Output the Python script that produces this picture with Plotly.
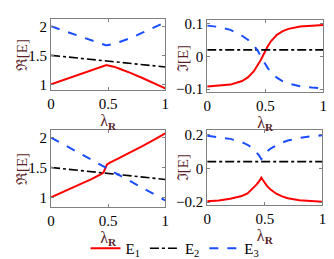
import plotly.graph_objects as go

# common lambda_R sample points
lam = [0, 0.1, 0.2, 0.3, 0.35, 0.4, 0.43, 0.45, 0.46, 0.47, 0.48, 0.49,
       0.52, 0.55, 0.6, 0.65, 0.7, 0.8, 0.9, 1.0]

# top-left: Re[E]
tl_e1 = [1.00, 1.07, 1.14, 1.21, 1.245, 1.28, 1.305, 1.318, 1.323, 1.327, 1.328, 1.328,
         1.32, 1.305, 1.27, 1.235, 1.195, 1.11, 1.02, 0.93]
tl_e2 = [1.50, 1.48, 1.46, 1.44, 1.43, 1.42, 1.414, 1.41, 1.408, 1.406, 1.404, 1.402,
         1.396, 1.39, 1.38, 1.37, 1.36, 1.34, 1.32, 1.30]
tl_e3 = [2.00, 1.93, 1.86, 1.79, 1.755, 1.72, 1.70, 1.685, 1.68, 1.675, 1.673, 1.673,
         1.68, 1.695, 1.73, 1.765, 1.80, 1.89, 1.98, 2.07]

# top-right: Im[E]
tr_e1 = [-0.092, -0.090, -0.086, -0.075, -0.064, -0.046, -0.031, -0.019, -0.012, -0.005, 0.003, 0.010,
         0.030, 0.047, 0.066, 0.077, 0.084, 0.091, 0.094, 0.096]
tr_e2 = [0.02] * 20
tr_e3 = [0.094, 0.090, 0.081, 0.063, 0.051, 0.034, 0.020, 0.009, 0.003, -0.004, -0.010, -0.017,
         -0.035, -0.049, -0.065, -0.076, -0.083, -0.091, -0.095, -0.097]

# bottom-left: Re[E]
bl_e1 = [1.00, 1.09, 1.175, 1.26, 1.30, 1.345, 1.375, 1.40, 1.42, 1.46, 1.52, 1.55,
         1.585, 1.61, 1.66, 1.71, 1.755, 1.855, 1.96, 2.07]
bl_e2 = [1.50, 1.48, 1.46, 1.44, 1.43, 1.42, 1.414, 1.41, 1.408, 1.406, 1.404, 1.402,
         1.396, 1.39, 1.38, 1.37, 1.36, 1.34, 1.32, 1.30]
bl_e3 = [2.00, 1.895, 1.79, 1.685, 1.633, 1.58, 1.549, 1.528, 1.517, 1.507, 1.496, 1.486,
         1.454, 1.423, 1.37, 1.318, 1.265, 1.16, 1.055, 0.95]

# bottom-right: Im[E]
br_e1 = [-0.195, -0.19, -0.18, -0.163, -0.148, -0.118, -0.095, -0.077, -0.066, -0.055, -0.066, -0.078,
         -0.105, -0.125, -0.15, -0.166, -0.177, -0.188, -0.194, -0.197]
br_e2 = [0.04] * 20
br_e3 = [0.194, 0.186, 0.175, 0.156, 0.14, 0.117, 0.095, 0.077, 0.066, 0.055, 0.064, 0.075,
         0.10, 0.118, 0.138, 0.153, 0.165, 0.18, 0.19, 0.196]

x_ticks = [0, 0.5, 1]
x_tick_labels = ["0", "0.5", "1"]
re_ticks = [1, 1.5, 2]
re_tick_labels = ["1", "1.5", "2"]
tr_ticks = [-0.1, 0, 0.1]
tr_tick_labels = ["\u22120.1", "0", "0.1"]
br_ticks = [-0.2, 0, 0.2]
br_tick_labels = ["\u22120.2", "0", "0.2"]

names = ["E<sub>1</sub>", "E<sub>2</sub>", "E<sub>3</sub>"]
styles = [dict(color="#ff0000", width=2, dash="solid"),
          dict(color="#000000", width=1.6, dash="dashdot"),
          dict(color="#1a4dff", width=2, dash="dash")]

W, H = 334, 259
FONT = "Times New Roman"
TITLE_COL = "#5a1f2a"

fig = go.Figure()
panels = [
    ("x", "y", [tl_e1, tl_e2, tl_e3]),
    ("x2", "y2", [tr_e1, tr_e2, tr_e3]),
    ("x3", "y3", [bl_e1, bl_e2, bl_e3]),
    ("x4", "y4", [br_e1, br_e2, br_e3]),
]
for pi, (xa, ya, series) in enumerate(panels):
    for si, ys in enumerate(series):
        fig.add_trace(go.Scatter(x=lam, y=ys, mode="lines", xaxis=xa, yaxis=ya,
                                 line=styles[si], name=names[si], showlegend=(pi == 0)))

def px_dom_x(a, b):
    return [a / W, b / W]

def px_dom_y(top, bottom):
    return [1 - bottom / H, 1 - top / H]

axis_common = dict(showgrid=False, zeroline=False, showline=True, linecolor="#808080",
                   linewidth=1, mirror="ticks", ticks="inside", ticklen=3,
                   tickcolor="#808080", tickfont=dict(family=FONT, size=15, color="black"))

xtitle = dict(text="\u03bb<sub><b>R</b></sub>", font=dict(family=FONT, size=16, color=TITLE_COL), standoff=0)

layout = dict(
    width=W, height=H, margin=dict(l=0, r=0, t=0, b=0),
    paper_bgcolor="white", plot_bgcolor="white", showlegend=True,
    font=dict(family=FONT),
    legend=dict(orientation="h", x=0.5, xanchor="center", y=1 - 245 / H, yanchor="middle",
                font=dict(family=FONT, size=15, color="black"), itemwidth=30,
                bgcolor="rgba(0,0,0,0)"),
)

doms = {
    "1": (px_dom_x(40, 157), px_dom_y(7, 81), [0.9, 2.13], re_ticks, re_tick_labels),
    "2": (px_dom_x(200, 319), px_dom_y(8, 83), [-0.109, 0.112], tr_ticks, tr_tick_labels),
    "3": (px_dom_x(40, 157), px_dom_y(122, 202), [0.84, 2.13], re_ticks, re_tick_labels),
    "4": (px_dom_x(200, 318), px_dom_y(122, 200), [-0.217, 0.229], br_ticks, br_tick_labels),
}
for k, (dx, dy, yr, yt, ytl) in doms.items():
    sfx = "" if k == "1" else k
    layout["xaxis" + sfx] = dict(axis_common, domain=dx, range=[0, 1], tickvals=x_ticks,
                                 ticktext=x_tick_labels, anchor="y" + sfx, title=xtitle)
    layout["yaxis" + sfx] = dict(axis_common, domain=dy, range=yr, tickvals=yt, ticktext=ytl,
                                 anchor="x" + sfx)

# y-axis titles as rotated annotations: (text, x px, y px)
ytitles = [("\u211c[E]", 11, 45), ("\u2111[E]", 176, 48),
           ("\u211c[E]", 11, 163), ("\u2111[E]", 176, 161)]
layout["annotations"] = [
    dict(text=t, x=xp / W, y=1 - yp / H, xref="paper", yref="paper", showarrow=False,
         textangle=-90, xanchor="center", yanchor="middle",
         font=dict(family=FONT, size=15, color=TITLE_COL))
    for t, xp, yp in ytitles
]

fig.update_layout(**layout)
fig.write_html("out.html")
